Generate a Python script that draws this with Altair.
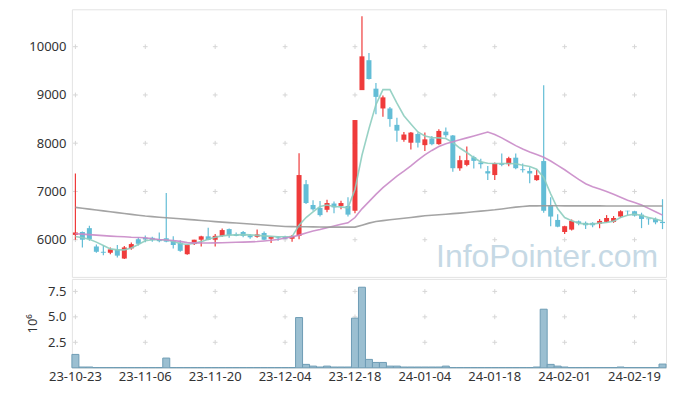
import altair as alt
import pandas as pd

# ---------------- data ----------------
dates = [
    "23-10-23", "23-10-24", "23-10-25", "23-10-26", "23-10-27", "23-10-30", "23-10-31",
    "23-11-01", "23-11-02", "23-11-03", "23-11-06", "23-11-07", "23-11-08", "23-11-09", "23-11-10",
    "23-11-13", "23-11-14", "23-11-15", "23-11-16", "23-11-17", "23-11-20", "23-11-21", "23-11-22",
    "23-11-23", "23-11-24", "23-11-27", "23-11-28", "23-11-29", "23-11-30", "23-12-01",
    "23-12-04", "23-12-05", "23-12-06", "23-12-07", "23-12-08", "23-12-11", "23-12-12", "23-12-13",
    "23-12-14", "23-12-15", "23-12-18", "23-12-19", "23-12-20", "23-12-21", "23-12-22",
    "23-12-26", "23-12-27", "23-12-28", "24-01-02", "24-01-03", "24-01-04", "24-01-05",
    "24-01-08", "24-01-09", "24-01-10", "24-01-11", "24-01-12", "24-01-15", "24-01-16", "24-01-17",
    "24-01-18", "24-01-19", "24-01-22", "24-01-23", "24-01-24", "24-01-25", "24-01-26",
    "24-01-29", "24-01-30", "24-01-31", "24-02-01", "24-02-02", "24-02-05", "24-02-06", "24-02-07",
    "24-02-08", "24-02-13", "24-02-14", "24-02-15", "24-02-16", "24-02-19", "24-02-20", "24-02-21",
    "24-02-22", "24-02-23",
]

opens = [
    6100, 6160, 6240, 5860, 5750, 5730, 5790, 5610, 5820, 6010,
    6040, 6040, 6010, 6030, 5970, 5940, 5700, 5910, 6000, 6070,
    6000, 6080, 6220, 6110, 6160, 6090, 6060, 6140, 6020, 6050,
    6060, 6020, 6080, 7150, 6720, 6660, 6620, 6750, 6700, 6700,
    6600, 9100, 9720, 9130, 8720, 8720, 8380, 8070, 8010, 8190,
    7960, 8100, 7980, 8240, 8160, 7480, 7550, 7710, 7600, 7420,
    7340, 7585, 7565, 7700, 7460, 7425, 7235, 7630, 6720, 6410,
    6160, 6210, 6380, 6350, 6350, 6330, 6370, 6370, 6480, 6600,
    6590, 6520, 6440, 6430, 6370,
]
highs = [
    7370, 6170, 6290, 5900, 5880, 5840, 5890, 5870, 5940, 6050,
    6090, 6060, 6150, 6970, 6070, 5990, 5900, 6000, 6080, 6250,
    6120, 6230, 6230, 6150, 6180, 6120, 6210, 6170, 6070, 6070,
    6080, 6100, 7790, 7240, 6820, 6800, 6830, 6790, 6810, 6880,
    8480, 10630, 9870, 9250, 8990, 8750, 8530, 8230, 8230, 8220,
    8220, 8150, 8290, 8325, 8170, 7740, 7930, 7740, 7680, 7530,
    7600, 7787, 7720, 7787, 7580, 7500, 7450, 9200, 6880, 6530,
    6290, 6420, 6400, 6380, 6360, 6430, 6510, 6490, 6610, 6600,
    6600, 6560, 6440, 6460, 6840,
]
lows = [
    6000, 5840, 5980, 5730, 5680, 5700, 5630, 5600, 5790, 5880,
    5950, 5960, 5950, 5950, 5820, 5750, 5690, 5890, 5860, 5990,
    5860, 6060, 6040, 6070, 6050, 6020, 6040, 5990, 5930, 5980,
    6010, 5960, 6010, 6740, 6600, 6480, 6570, 6550, 6630, 6480,
    6550, 9100, 9320, 8600, 8550, 8340, 8030, 8030, 7870, 7910,
    7840, 7960, 7970, 8120, 7406, 7430, 7520, 7476, 7476, 7240,
    7240, 7520, 7520, 7462, 7393, 7172, 7220, 6560, 6280, 6260,
    6120, 6190, 6300, 6220, 6260, 6240, 6360, 6350, 6450, 6510,
    6480, 6240, 6310, 6320, 6220,
]
closes = [
    6150, 6000, 6010, 5750, 5730, 5800, 5670, 5840, 5910, 5915,
    6010, 5990, 5970, 5960, 5890, 5770, 5890, 6000, 6070, 5995,
    6080, 6200, 6100, 6080, 6080, 6050, 6110, 6000, 6060, 6030,
    6020, 6080, 7340, 6760, 6630, 6510, 6760, 6670, 6760, 6520,
    8480, 9800, 9330, 8960, 8950, 8500, 8260, 8180, 8220, 8010,
    8080, 7980, 8254, 8165, 7482, 7648, 7648, 7634, 7565, 7373,
    7586, 7552, 7690, 7482, 7441, 7373, 7337, 6600, 6480, 6270,
    6280, 6390, 6340, 6300, 6300, 6390, 6450, 6450, 6590, 6590,
    6500, 6430, 6425, 6360, 6345,
]
# trading volume, millions of shares
volume_m = [
    1.31, 0.07, 0.07, 0.02, 0.02, 0.02, 0.02, 0.02, 0.02, 0.02,
    0.02, 0.02, 0.02, 0.95, 0.02, 0.02, 0.02, 0.02, 0.02, 0.02,
    0.02, 0.02, 0.02, 0.02, 0.02, 0.02, 0.02, 0.02, 0.02, 0.02,
    0.02, 0.02, 4.93, 0.33, 0.16, 0.07, 0.16, 0.07, 0.07, 0.07,
    4.87, 7.91, 0.82, 0.52, 0.52, 0.16, 0.16, 0.07, 0.07, 0.07,
    0.07, 0.07, 0.07, 0.16, 0.02, 0.02, 0.02, 0.02, 0.02, 0.02,
    0.02, 0.02, 0.02, 0.02, 0.02, 0.02, 0.07, 5.75, 0.33, 0.16,
    0.07, 0.02, 0.02, 0.02, 0.02, 0.02, 0.02, 0.02, 0.07, 0.02,
    0.02, 0.02, 0.02, 0.02, 0.36,
]
ma5 = [
    6068, 6040, 6010, 5950, 5880, 5810, 5790, 5790, 5830, 5900,
    5980, 6000, 6000, 5995, 5965, 5920, 5900, 5925, 5960, 6010,
    6050, 6080, 6095, 6100, 6105, 6100, 6090, 6080, 6070, 6060,
    6060, 6065, 6300, 6460, 6575, 6690, 6720, 6690, 6680, 6660,
    7040, 7750, 8300, 8800, 9110, 9110, 8830, 8570, 8400, 8234,
    8150, 8117, 8110, 8097, 8014, 7900, 7807, 7703, 7613, 7586,
    7580, 7580, 7579, 7575, 7544, 7517, 7462, 7290, 6950, 6640,
    6460, 6392, 6344, 6323, 6325, 6344, 6358, 6385, 6462, 6509,
    6530, 6500, 6462, 6427, 6390,
]
ma20 = [
    6125, 6115, 6105, 6095, 6085, 6075, 6068, 6060, 6050, 6045,
    6040, 6020, 6005, 5995, 5985, 5965, 5940, 5935, 5932, 5932,
    5935, 5938, 5942, 5946, 5950, 5955, 5962, 5975, 5990, 6005,
    6035, 6055, 6095, 6140, 6180, 6210, 6250, 6285, 6320, 6350,
    6460, 6640, 6790, 6940, 7080, 7200, 7320, 7420, 7530, 7650,
    7760, 7850, 7930, 7990, 8030, 8070, 8110, 8150, 8190, 8230,
    8180, 8110, 8030, 7950, 7880, 7820, 7765, 7710, 7630, 7540,
    7450, 7350, 7250, 7160, 7100, 7050, 7000, 6940, 6880, 6820,
    6772, 6720, 6650, 6580, 6510,
]
ma60 = [
    6670, 6652, 6634, 6616, 6598, 6580, 6562, 6544, 6526, 6508,
    6490, 6478, 6466, 6455, 6444, 6433, 6422, 6411, 6399, 6387,
    6375, 6365, 6355, 6345, 6335, 6325, 6315, 6305, 6295, 6285,
    6275, 6272, 6270, 6268, 6266, 6264, 6262, 6261, 6260, 6260,
    6261, 6302, 6344, 6378, 6396, 6413, 6429, 6445, 6461, 6478,
    6496, 6507, 6518, 6529, 6540, 6551, 6565, 6579, 6593, 6606,
    6620, 6638, 6656, 6675, 6689, 6702, 6702, 6703, 6703, 6703,
    6702, 6702, 6702, 6701, 6701, 6701, 6700, 6700, 6700, 6700,
    6700, 6699, 6699, 6699, 6698,
]
ma_names = ["MA5", "MA20", "MA60"]
ma_colors = ["#8dcdbf", "#c98ac8", "#9a9a9a"]

x_ticks = ["23-10-23", "23-11-06", "23-11-20", "23-12-04", "23-12-18",
           "24-01-04", "24-01-18", "24-02-01", "24-02-19"]
price_ticks = [6000, 7000, 8000, 9000, 10000]
vol_ticks = [2.5, 5.0, 7.5]
price_domain = [5230, 10775]
vol_domain = [0, 8.73]
watermark = ["InfoPointer.com"]

UP = "#ef3b3b"
DOWN = "#63bdd6"
GRID = "#d6d6d6"
FONT = "Noto Sans"

# ---------------- tables ----------------
candles = pd.DataFrame({"date": dates, "open": opens, "high": highs,
                        "low": lows, "close": closes, "vol": volume_m})
ma = pd.DataFrame({
    "date": dates * 3,
    "value": ma5 + ma20 + ma60,
    "series": [ma_names[0]] * len(dates) + [ma_names[1]] * len(dates) + [ma_names[2]] * len(dates),
})
price_cross = pd.DataFrame([{"date": d, "v": v} for d in x_ticks for v in price_ticks])
vol_cross = pd.DataFrame([{"date": d, "v": v} for d in x_ticks for v in vol_ticks])
wm = pd.DataFrame({"t": watermark})

W, H1, H2 = 595, 268, 89

xscale = alt.Scale(type="band", domain=dates, paddingInner=0, paddingOuter=0)
pscale = alt.Scale(domain=price_domain, nice=False, zero=False)
vscale = alt.Scale(domain=vol_domain, nice=False, zero=False)
CROSS = "M-1,0L1,0M0,-1L0,1"

x_hidden = alt.X("date:O", scale=xscale, axis=None, bandPosition=0.5)
x_hidden_bar = alt.X("date:O", scale=xscale, axis=None)
y_price_axis = alt.Axis(values=price_ticks, format="d", grid=False, ticks=False, domain=False,
                        labelPadding=6, title=None)

candle_color = alt.condition("datum.close > datum.open", alt.value(UP), alt.value(DOWN))

wm_layer = alt.Chart(wm).mark_text(
    font="Liberation Sans", fontSize=32, align="right",
    baseline="alphabetic", color="#c6d9e5"
).encode(text="t:N", x=alt.value(W - 8), y=alt.value(H1 - 10))

p_cross = alt.Chart(price_cross).mark_point(
    shape=CROSS, size=22, filled=False, stroke=GRID, strokeWidth=1, opacity=1
).encode(x=x_hidden, y=alt.Y("v:Q", scale=pscale, axis=y_price_axis))

wicks = alt.Chart(candles).mark_rule(strokeWidth=1.2).encode(
    x=x_hidden,
    y=alt.Y("low:Q", scale=pscale, axis=y_price_axis),
    y2="high:Q",
    color=candle_color,
)
bodies = alt.Chart(candles).mark_bar(size=5).encode(
    x=x_hidden_bar,
    y=alt.Y("open:Q", scale=pscale, axis=y_price_axis),
    y2="close:Q",
    color=candle_color,
)
lines = alt.Chart(ma).mark_line(strokeWidth=1.6, opacity=0.9).encode(
    x=x_hidden,
    y=alt.Y("value:Q", scale=pscale, axis=y_price_axis),
    color=alt.Color("series:N", scale=alt.Scale(domain=ma_names, range=ma_colors), legend=None),
    detail="series:N",
)

top = alt.layer(wm_layer, p_cross, wicks, bodies, lines).properties(width=W, height=H1)

x_axis = alt.Axis(values=x_ticks, labelAngle=0, ticks=False, domain=False, grid=False,
                  labelPadding=3, title=None)
y_vol_axis = alt.Axis(values=vol_ticks, format=".1f", grid=False, ticks=False, domain=False,
                      labelPadding=6, title="10⁶", titlePadding=8, titleFontWeight="normal",
                      titleFontSize=13, titleColor="#333", titleFont=FONT)

v_cross = alt.Chart(vol_cross).mark_point(
    shape=CROSS, size=22, filled=False, stroke=GRID, strokeWidth=1, opacity=1
).encode(x=alt.X("date:O", scale=xscale, axis=x_axis, bandPosition=0.5),
         y=alt.Y("v:Q", scale=vscale, axis=y_vol_axis))

vbars = alt.Chart(candles).mark_bar(
    fill="#9bbfd1", stroke="#6e9db5", strokeWidth=1, fillOpacity=1
).encode(
    x=alt.X("date:O", scale=xscale, axis=x_axis),
    y=alt.Y("vol:Q", scale=vscale, axis=y_vol_axis),
)

bottom = alt.layer(v_cross, vbars).properties(width=W, height=H2)

chart = alt.vconcat(top, bottom, spacing=0).properties(
    padding={"left": 18, "top": 0, "right": 2, "bottom": 2}
).configure_view(
    stroke="#e3e3e3", strokeWidth=1
).configure_axis(
    labelFont=FONT, labelFontSize=13, labelColor="#333"
).configure_concat(spacing=0)

chart.save("out.html", embed_options={"renderer": "svg", "actions": False})
